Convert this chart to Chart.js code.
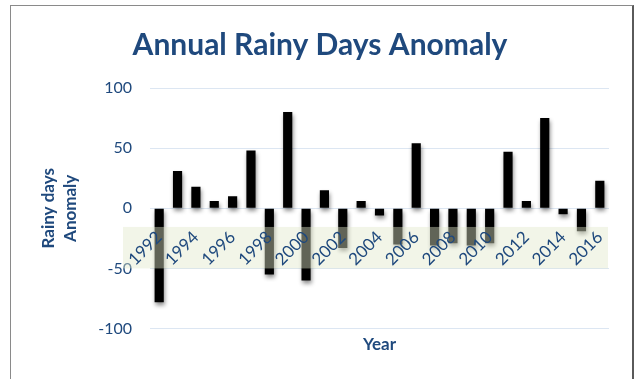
<!DOCTYPE html>
<html>
<head>
<meta charset="utf-8">
<script src="https://cdn.jsdelivr.net/npm/chart.js@4"></script>
<style>
  html, body { margin: 0; padding: 0; background: #ffffff; }
  #wrap { position: relative; width: 636px; height: 379px; overflow: hidden; }
  #frame { position: absolute; left: 10px; top: 5px; width: 621px; height: 400px;
           border: 1px solid #8a8a8a; border-right: 2px solid #5a5a5a; pointer-events: none; }
  canvas { position: absolute; left: 0; top: 0; }
</style>
</head>
<body>
<div id="wrap">
  <canvas id="c" width="636" height="379"></canvas>
  <div id="frame"></div>
</div>
<script>
// Years on the category axis
const years = ['1992','1993','1994','1995','1996','1997','1998','1999','2000','2001','2002','2003',
               '2004','2005','2006','2007','2008','2009','2010','2011','2012','2013','2014','2015','2016'];
// Rainy-day anomaly per year (days)
const anomalies = [-78, 31, 18, 6, 10, 48, -55, 80, -60, 15, -33, 6,
                   -6, -30, 54, -31, -29, -31, -29, 47, 6, 75, -5, -19, 23];
// Value-axis ticks
const yTicks = [-100, -50, 0, 50, 100];

const NAVY = '#1f497d';
const FONT = 'Lato, "Open Sans", sans-serif';

// Soft drop shadow under the bars, then the tinted label strip laid over them
const barShadowAndStrip = {
  id: 'barShadowAndStrip',
  beforeDatasetsDraw(chart) {
    const ctx = chart.ctx;
    ctx.save();
    ctx.shadowColor = 'rgba(0,0,0,0.45)';
    ctx.shadowBlur = 4;
    ctx.shadowOffsetX = 1;
    ctx.shadowOffsetY = 3;
  },
  afterDatasetsDraw(chart) {
    const ctx = chart.ctx;
    ctx.restore();
    const y = chart.scales.y;
    const area = chart.chartArea;
    const top = y.getPixelForValue(-15.5);
    const bottom = y.getPixelForValue(-50);
    ctx.save();
    ctx.fillStyle = 'rgba(225,232,202,0.43)';
    ctx.fillRect(area.left - 27, top, area.right - 1 - (area.left - 27), bottom - top);
    ctx.restore();
  }
};

new Chart(document.getElementById('c'), {
  type: 'bar',
  data: {
    labels: years,
    datasets: [{
      data: anomalies,
      backgroundColor: '#000000',
      borderWidth: 0,
      barPercentage: 0.5,
      categoryPercentage: 1.0,
      xAxisID: 'x',
      yAxisID: 'y'
    }]
  },
  options: {
    responsive: false,
    animation: false,
    devicePixelRatio: 1,
    layout: { padding: { top: 27, right: 27, bottom: 24, left: 31 } },
    plugins: {
      legend: { display: false },
      tooltip: { enabled: false },
      title: {
        display: true,
        text: 'Annual Rainy Days Anomaly',
        color: NAVY,
        font: { family: FONT, size: 30, weight: 'bold', lineHeight: 1.2 },
        padding: { top: 0, bottom: 25 }
      }
    },
    scales: {
      x: {
        type: 'category',
        position: 'bottom',
        offset: true,
        grid: { display: false, drawTicks: false },
        border: { display: false },
        ticks: { display: false },
        title: {
          display: true,
          text: 'Year',
          color: NAVY,
          font: { family: FONT, size: 17, weight: 'bold', lineHeight: 1.2 },
          padding: { top: 6, bottom: 0 }
        }
      },
      x2: {
        type: 'category',
        axis: 'x',
        position: { y: 0 },
        offset: true,
        grid: { display: false, drawTicks: false },
        border: { display: false },
        ticks: {
          z: 1,
          autoSkip: false,
          minRotation: 45,
          maxRotation: 45,
          padding: 19,
          color: NAVY,
          font: { family: FONT, size: 17 },
          callback: (v, i) => (i % 2 === 0 ? years[i] : '')
        }
      },
      y: {
        min: -100,
        max: 100,
        afterFit(scale) { scale.width = 119; },
        afterBuildTicks(scale) { scale.ticks = yTicks.map(v => ({ value: v })); },
        grid: { color: '#dce6f2', lineWidth: 1, drawTicks: false },
        border: { display: false },
        ticks: {
          padding: 18,
          color: NAVY,
          font: { family: FONT, size: 16 }
        },
        title: {
          display: true,
          text: ['Rainy days', 'Anomaly'],
          color: NAVY,
          font: { family: FONT, size: 17, weight: 'bold', lineHeight: 1.32 },
          padding: { top: 6, bottom: 0 }
        }
      }
    }
  },
  plugins: [barShadowAndStrip]
});
</script>
</body>
</html>
